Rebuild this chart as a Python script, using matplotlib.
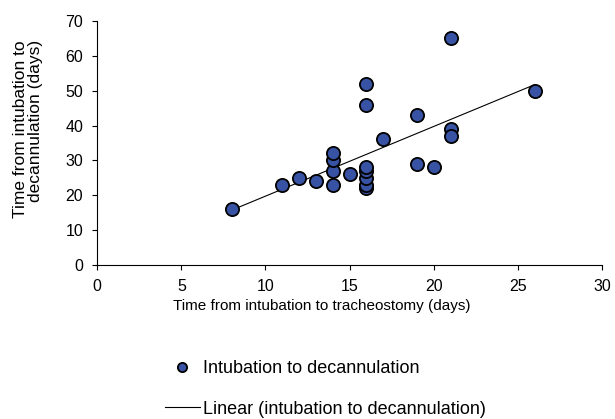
import numpy as np
import matplotlib.pyplot as plt

plt.rcParams['font.family'] = ['Liberation Sans', 'DejaVu Sans']

# days from intubation to tracheostomy / to decannulation
trach_days = [8, 11, 12, 13, 14, 14, 14, 14, 15, 16, 16, 16, 16, 16, 16, 16,
              17, 19, 19, 20, 21, 21, 21, 26]
decan_days = [16, 23, 25, 24, 23, 27, 30, 32, 26, 22, 23, 25, 27, 28, 46, 52,
              36, 43, 29, 28, 65, 39, 37, 50]

x = np.array(trach_days)
y = np.array(decan_days)
slope, intercept = np.polyfit(x, y, 1)
xfit = np.array([x.min(), x.max()])

fig = plt.figure(figsize=(6.15, 4.19), dpi=100)
ax = fig.add_axes([0.158, 0.3675, 0.821, 0.5825])

pts, = ax.plot(x, y, 'o', markersize=9.5, markerfacecolor='#3953A4',
               markeredgecolor='black', markeredgewidth=1.3, linestyle='none',
               label='Intubation to decannulation', zorder=3)
fit, = ax.plot(xfit, slope * xfit + intercept, color='black', linewidth=0.8,
               label='Linear (intubation to decannulation)', zorder=2)

ax.set_xlim(0, 30)
ax.set_ylim(0, 70)
ax.set_xticks(range(0, 31, 5))
ax.set_yticks(range(0, 71, 10))
ax.spines['top'].set_visible(False)
ax.spines['right'].set_visible(False)
ax.tick_params(direction='out', length=3.6, labelsize=11.5, pad=6.5)
ax.set_xlabel('Time from intubation to tracheostomy (days)', fontsize=11, va='top')
ax.xaxis.set_label_coords(0.4455, -0.139)

fig.text(28 / 615, 1 - 129 / 419, 'Time from intubation to\ndecannulation (days)',
         rotation=90, ha='center', va='center', multialignment='right',
         fontsize=12.5, linespacing=1.0)

fig.legend(handles=[pts, fit], loc='upper left', bbox_to_anchor=(0.268, 0.140),
           bbox_transform=fig.transFigure, frameon=False, fontsize=13,
           handlelength=1.95, handletextpad=0.15, labelspacing=1.3,
           markerscale=0.7, borderaxespad=0, borderpad=0)

fig.savefig('out.png', dpi=100)
